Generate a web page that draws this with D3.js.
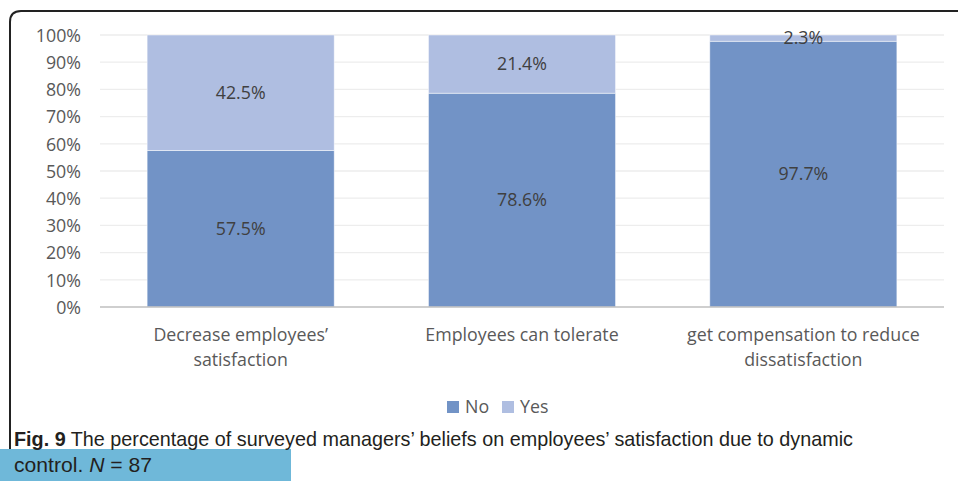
<!DOCTYPE html>
<html><head><meta charset="utf-8">
<script src="https://cdn.jsdelivr.net/npm/d3@7"></script>
<style>body{margin:0;background:#fff}svg{display:block}</style>
</head><body>
<svg id="c" width="958" height="481"></svg>
<script>
const categories = [["Decrease employees\u2019","satisfaction"],["Employees can tolerate"],["get compensation to reduce","dissatisfaction"]];
const seriesNames = ["No","Yes"];
const noValues = [57.5, 78.6, 97.7];
const yesValues = [42.5, 21.4, 2.3];
const yTicks = [0,10,20,30,40,50,60,70,80,90,100];
const colors = {No:"#7293C6", Yes:"#AFBEE1"};

const svg = d3.select("#c");
const font = "'Open Sans', sans-serif";
const fs = 17.8;

// frame
svg.append("path").attr("d","M10,481 L10,22 Q10,11 21,11 L958,11")
  .attr("fill","none").attr("stroke","#222").attr("stroke-width",2);

const x = d3.scaleBand().domain(d3.range(3)).range([100,944]).paddingInner(0.335).paddingOuter(0.1675);
const y = d3.scaleLinear().domain([0,100]).range([307,35]);

// grid
svg.append("g").selectAll("line").data(yTicks.filter(d=>d>0)).join("line")
  .attr("x1",100).attr("x2",944).attr("y1",d=>y(d)).attr("y2",d=>y(d))
  .attr("stroke","#EDEDED").attr("stroke-width",1.3);

// y axis labels
const yAxis = d3.axisLeft(y).tickValues(yTicks).tickFormat(d=>d+"%").tickSize(0).tickPadding(0);
const ya = svg.append("g").attr("transform","translate(81,0)").call(yAxis);
ya.select(".domain").remove();
ya.selectAll("text").attr("font-family",font).attr("font-size",fs).attr("fill","#595959").attr("dy","0.35em");

// stacks
const data = categories.map((c,i)=>({i, No:noValues[i], Yes:yesValues[i]}));
const stack = d3.stack().keys(seriesNames)(data);
svg.append("g").selectAll("g").data(stack).join("g").attr("fill",d=>colors[d.key])
  .selectAll("rect").data(d=>d).join("rect")
  .attr("x",d=>x(d.data.i)).attr("width",x.bandwidth())
  .attr("y",d=>y(d[1])).attr("height",d=>y(d[0])-y(d[1]))
  .attr("stroke","#fff").attr("stroke-width",0.8).attr("stroke-opacity",0.6);

// baseline
svg.append("line").attr("x1",100).attr("x2",944).attr("y1",y(0)).attr("y2",y(0))
  .attr("stroke","#BFBFBF").attr("stroke-width",1.5);

// data labels
svg.append("g").selectAll("g").data(stack).join("g")
  .selectAll("text").data(d=>d).join("text")
  .attr("x",d=>x(d.data.i)+x.bandwidth()/2)
  .attr("y",d=>(y(d[0])+y(d[1]))/2)
  .attr("dy","0.35em").attr("text-anchor","middle")
  .attr("font-family",font).attr("font-size",fs).attr("fill","#404040")
  .text(d=>(d[1]-d[0]).toFixed(1)+"%");

// category labels
const cat = svg.append("g").selectAll("text").data(categories).join("text")
  .attr("x",(d,i)=>x(i)+x.bandwidth()/2).attr("y",341)
  .attr("text-anchor","middle").attr("font-family",font).attr("font-size",fs).attr("fill","#595959");
cat.selectAll("tspan").data(d=>d).join("tspan")
  .attr("x",function(){return this.parentNode.getAttribute("x");})
  .attr("dy",(d,j)=>j===0?0:25).text(d=>d);

// legend
const leg = svg.append("g");
const legItems = [{k:"No",x:447},{k:"Yes",x:502}];
legItems.forEach(it=>{
  leg.append("rect").attr("x",it.x).attr("y",401).attr("width",12).attr("height",12).attr("fill",colors[it.k]);
  leg.append("text").attr("x",it.x+18).attr("y",407).attr("dy","0.35em")
    .attr("font-family",font).attr("font-size",fs).attr("fill","#595959").text(it.k);
});

// caption
svg.append("rect").attr("x",0).attr("y",449).attr("width",291).attr("height",32).attr("fill","#6FB8D9");
const capFont = "'Liberation Sans Narrow','Arial Narrow',sans-serif";
const cap = svg.append("text").attr("x",14).attr("y",446).attr("font-family",capFont).attr("font-size",21).attr("fill","#231F20")
  .attr("textLength",839).attr("lengthAdjust","spacingAndGlyphs");
cap.append("tspan").attr("font-weight","bold").text("Fig. 9");
cap.append("tspan").text(" The percentage of surveyed managers\u2019 beliefs on employees\u2019 satisfaction due to dynamic");
const cap2 = svg.append("text").attr("x",14).attr("y",472).attr("font-family",capFont).attr("font-size",21).attr("fill","#231F20")
  .attr("textLength",138).attr("lengthAdjust","spacingAndGlyphs");
cap2.append("tspan").text("control. ");
cap2.append("tspan").attr("font-style","italic").text("N");
cap2.append("tspan").text(" = 87");
</script>
</body></html>
